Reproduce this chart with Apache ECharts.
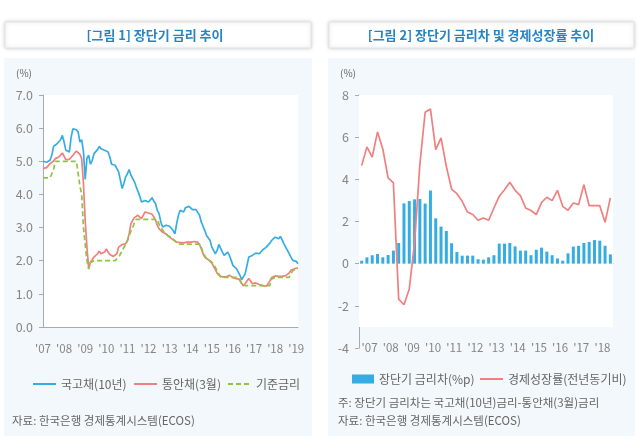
<!DOCTYPE html>
<html>
<head>
<meta charset="utf-8">
<script src="https://cdn.jsdelivr.net/npm/echarts@6/dist/echarts.min.js"></script>
<style>
html,body{margin:0;padding:0;background:#fff;}
#c{width:640px;height:446px;}
</style>
</head>
<body>
<div id="c"></div>
<script>
// ---------- Chart 1 data (monthly, Jan 2007 - Feb 2019) ----------
const leftYears = ['2007','2008','2009','2010','2011','2012','2013','2014','2015','2016','2017','2018','2019'];
const ktb10y = [
5.0,5.0,4.97,4.95,5.03,5.18,5.45,5.41,5.53,5.58,5.65,5.78,
5.58,5.33,5.31,5.28,5.73,5.98,6.0,5.95,5.88,5.58,5.65,5.3,
4.45,5.1,5.18,4.91,5.03,5.23,5.18,5.35,5.45,5.38,5.35,5.33,
5.28,5.28,5.13,4.91,4.93,4.88,4.85,4.68,4.43,4.18,4.33,4.53,
4.63,4.75,4.58,4.48,4.38,4.23,4.18,3.95,3.77,3.82,3.82,3.77,
3.77,3.82,3.90,3.80,3.72,3.52,3.42,3.17,3.02,2.96,3.07,3.12,
3.04,3.0,2.91,2.81,3.12,3.37,3.52,3.57,3.47,3.6,3.57,3.64,
3.6,3.54,3.52,3.54,3.5,3.37,3.17,3.04,2.91,2.76,2.71,2.61,
2.41,2.31,2.21,2.31,2.49,2.43,2.26,2.16,2.11,2.26,2.16,2.01,
1.86,1.81,1.76,1.71,1.56,1.43,1.46,1.61,1.86,2.11,2.16,2.16,
2.21,2.23,2.26,2.21,2.26,2.33,2.36,2.41,2.46,2.53,2.61,2.66,
2.71,2.76,2.66,2.73,2.63,2.51,2.41,2.31,2.26,2.11,2.01,1.99,
1.98,1.91];
const msb3m = [
4.78,4.8,4.81,4.85,4.93,4.98,5.01,5.08,5.13,5.13,5.16,5.25,
5.23,5.05,5.03,5.06,5.08,5.18,5.21,5.31,5.33,5.21,5.08,4.33,
3.2,2.4,1.76,1.96,2.03,2.11,2.13,2.21,2.29,2.21,2.16,2.26,
2.36,2.26,2.19,2.16,2.13,2.11,2.21,2.41,2.46,2.49,2.46,2.51,
2.61,2.81,3.12,3.22,3.3,3.34,3.37,3.32,3.27,3.37,3.47,3.44,
3.44,3.42,3.4,3.32,3.22,3.07,2.96,2.91,2.86,2.83,2.81,2.76,
2.71,2.66,2.63,2.59,2.56,2.56,2.55,2.56,2.54,2.58,2.56,2.55,
2.56,2.56,2.58,2.59,2.56,2.49,2.36,2.21,2.11,2.06,2.03,1.99,
1.93,1.83,1.73,1.63,1.56,1.51,1.51,1.53,1.51,1.53,1.56,1.51,
1.49,1.49,1.46,1.46,1.43,1.31,1.24,1.31,1.39,1.46,1.39,1.31,
1.26,1.33,1.31,1.28,1.26,1.25,1.24,1.23,1.29,1.39,1.49,1.53,
1.54,1.53,1.53,1.54,1.53,1.53,1.55,1.56,1.63,1.71,1.76,1.76,
1.78,1.78];
const baseRate = [
4.5,4.5,4.5,4.5,4.5,4.5,4.75,5.0,5.0,5.0,5.0,5.0,
5.0,5.0,5.0,5.0,5.0,5.0,5.0,5.0,5.0,4.25,4.0,3.0,
2.5,2.0,1.75,1.95,2.0,2.0,2.0,2.0,2.0,2.0,2.0,2.0,
2.0,2.0,2.0,2.0,2.0,2.0,2.05,2.1,2.2,2.3,2.4,2.5,
2.6,2.75,2.9,3.0,3.15,3.25,3.25,3.25,3.25,3.25,3.25,3.25,
3.25,3.25,3.25,3.25,3.25,3.25,3.1,3.0,2.95,2.85,2.8,2.75,
2.75,2.7,2.65,2.6,2.55,2.5,2.5,2.5,2.5,2.5,2.5,2.5,
2.5,2.5,2.5,2.5,2.5,2.5,2.4,2.25,2.2,2.05,2.0,2.0,
2.0,1.9,1.8,1.7,1.6,1.5,1.5,1.5,1.5,1.5,1.5,1.5,
1.5,1.5,1.5,1.5,1.5,1.3,1.25,1.25,1.25,1.25,1.25,1.25,
1.25,1.25,1.25,1.25,1.25,1.25,1.25,1.25,1.25,1.25,1.45,1.5,
1.5,1.5,1.5,1.5,1.5,1.5,1.5,1.5,1.5,1.5,1.7,1.75,
1.75,1.75];
const leftNames = ['국고채(10년)','통안채(3월)','기준금리'];

// ---------- Chart 2 data (quarterly, 2007Q1 - 2018Q4) ----------
const rightYears = ["'07","'08","'09","'10","'11","'12","'13","'14","'15","'16","'17","'18"];
const spread = [
0.14,0.3,0.4,0.46,0.3,0.41,0.62,0.98,
2.86,2.97,3.05,3.07,2.85,3.47,2.15,1.76,
1.55,0.97,0.55,0.38,0.38,0.38,0.21,0.19,
0.3,0.4,0.95,0.95,0.98,0.82,0.62,0.62,
0.4,0.66,0.76,0.57,0.4,0.25,0.14,0.49,
0.81,0.85,0.98,1.03,1.12,1.09,0.85,0.44];
const growth = [
4.65,5.54,5.05,6.25,5.44,4.07,3.83,-1.68,
-1.95,-1.2,1.0,4.7,7.18,7.34,5.41,5.97,
4.62,3.54,3.32,2.96,2.45,2.33,2.06,2.17,
2.06,2.64,3.2,3.51,3.86,3.48,3.23,2.64,
2.52,2.33,2.91,3.15,2.99,3.48,2.72,2.53,
2.88,2.8,3.75,2.75,2.75,2.75,1.96,3.12];
const rightNames = ['장단기 금리차(%p)','경제성장률(전년동기비)'];

// ---------- build categories ----------
const months = [];
leftYears.forEach(y => { for (let m = 1; m <= 12; m++) months.push(y + '.' + (m < 10 ? '0' + m : m)); });
const leftCats = months.slice(0, ktb10y.length);
const quarters = [];
rightYears.forEach(y => { for (let q = 1; q <= 4; q++) quarters.push(y + 'Q' + q); });

const FONT = '"Noto Sans CJK KR", "Noto Sans", sans-serif';
const AX = '#aaaaaa';
const LBL = '#858585';
const BLUE = '#35ade2';
const RED = '#f07f7f';
const GREEN = '#8dc63f';
const TITLE = '#2784c3';
const PANEL = '#f2f8fb';

const legText = {fontSize: 12, color: '#666', fontFamily: FONT};
function lineLegend(name, left, top) {
  return {data: [name], left: left, top: top, itemWidth: 23, itemHeight: 1, itemGap: 0,
          itemStyle: {opacity: 0}, textStyle: legText};
}

const chart = echarts.init(document.getElementById('c'), null, {renderer: 'canvas'});
const option = {
  animation: false,
  textStyle: {fontFamily: FONT},
  graphic: [
    {type: 'rect', z: -10, shape: {x: 4, y: 58, width: 308, height: 378}, style: {fill: PANEL}},
    {type: 'rect', z: -10, shape: {x: 328, y: 58, width: 307, height: 378}, style: {fill: PANEL}},
    {type: 'rect', z: -9, shape: {x: 5, y: 22, width: 306, height: 26}, style: {fill: '#fff', stroke: '#e2e2e2', lineWidth: 1, shadowBlur: 4, shadowColor: 'rgba(0,0,0,0.18)'}},
    {type: 'rect', z: -9, shape: {x: 329, y: 22, width: 305, height: 26}, style: {fill: '#fff', stroke: '#e2e2e2', lineWidth: 1, shadowBlur: 4, shadowColor: 'rgba(0,0,0,0.18)'}},
    {type: 'text', z: 5, style: {text: '[그림 1] 장단기 금리 추이', x: 155, y: 35, align: 'center', verticalAlign: 'middle', fill: TITLE, font: 'bold 13px ' + FONT}},
    {type: 'text', z: 5, style: {text: '[그림 2] 장단기 금리차 및 경제성장률 추이', x: 481, y: 35, align: 'center', verticalAlign: 'middle', fill: TITLE, font: 'bold 13px ' + FONT}},
    {type: 'text', z: 5, style: {text: '(%)', x: 16, y: 73, verticalAlign: 'middle', fill: '#666', font: '10px ' + FONT}},
    {type: 'text', z: 5, style: {text: '(%)', x: 340, y: 73, verticalAlign: 'middle', fill: '#666', font: '10px ' + FONT}},
    {type: 'text', z: 5, style: {text: '자료: 한국은행 경제통계시스템(ECOS)', x: 12, y: 421, verticalAlign: 'middle', fill: '#666', font: '11.5px ' + FONT}},
    {type: 'text', z: 5, style: {text: '주: 장단기 금리차는 국고채(10년)금리-통안채(3월)금리', x: 338, y: 403, verticalAlign: 'middle', fill: '#666', font: '11.5px ' + FONT}},
    {type: 'text', z: 5, style: {text: '자료: 한국은행 경제통계시스템(ECOS)', x: 338, y: 421, verticalAlign: 'middle', fill: '#666', font: '11.5px ' + FONT}}
  ],
  legend: [
    lineLegend(leftNames[0], 27, 373),
    lineLegend(leftNames[1], 128, 373),
    lineLegend(leftNames[2], 222, 373),
    {data: [{name: rightNames[0], icon: 'rect', itemStyle: {color: BLUE}}], left: 347, top: 368,
     itemWidth: 22, itemHeight: 9, itemGap: 0, textStyle: legText},
    lineLegend(rightNames[1], 474, 368)
  ],
  grid: [
    {left: 43, top: 95, width: 255, height: 232, show: true, backgroundColor: '#fff', borderWidth: 0},
    {left: 359, top: 95, width: 254, height: 253, show: false}
  ],
  xAxis: [
    {
      gridIndex: 0, type: 'category', data: leftCats, boundaryGap: false,
      axisLine: {lineStyle: {color: AX}}, axisTick: {show: false},
      axisLabel: {
        interval: (i) => i % 12 === 0, margin: 16, color: LBL, fontSize: 11.5,
        formatter: (v) => "'" + v.slice(2, 4)
      }
    },
    {
      gridIndex: 1, type: 'category', data: quarters, boundaryGap: true,
      axisLine: {onZero: true, lineStyle: {color: AX}}, axisTick: {show: false},
      axisLabel: {show: false}
    },
    {
      gridIndex: 1, type: 'category', data: rightYears, boundaryGap: true, position: 'bottom',
      axisLine: {show: false}, axisTick: {show: false},
      axisLabel: {margin: 0, verticalAlign: 'middle', color: LBL, fontSize: 11.5}
    }
  ],
  yAxis: [
    {
      gridIndex: 0, type: 'value', min: 0, max: 7, interval: 1,
      axisLine: {show: true, lineStyle: {color: AX}},
      axisTick: {show: true, length: 4, lineStyle: {color: AX}},
      splitLine: {show: false},
      axisLabel: {margin: 10, color: LBL, fontSize: 12.5, formatter: (v) => v.toFixed(1)}
    },
    {
      gridIndex: 1, type: 'value', min: -4, max: 8, interval: 2,
      axisLine: {show: true, lineStyle: {color: AX}},
      axisTick: {show: true, length: 4, lineStyle: {color: AX}},
      splitLine: {show: false},
      axisLabel: {margin: 10, color: LBL, fontSize: 12.5}
    }
  ],
  series: [
    {name: leftNames[0], type: 'line', xAxisIndex: 0, yAxisIndex: 0, data: ktb10y, symbol: 'none',
     lineStyle: {color: BLUE, width: 1.7}, itemStyle: {color: BLUE}, z: 3},
    {name: leftNames[1], type: 'line', xAxisIndex: 0, yAxisIndex: 0, data: msb3m, symbol: 'none',
     lineStyle: {color: RED, width: 1.7}, itemStyle: {color: RED}, z: 4},
    {name: leftNames[2], type: 'line', xAxisIndex: 0, yAxisIndex: 0, data: baseRate, symbol: 'none',
     lineStyle: {color: GREEN, width: 1.7, type: [5, 3]}, itemStyle: {color: GREEN}, z: 5},
    {name: rightNames[0], type: 'bar', xAxisIndex: 1, yAxisIndex: 1, data: spread, barWidth: 3,
     itemStyle: {color: BLUE},
     markArea: {silent: true, itemStyle: {color: '#ffffff'}, data: [[{yAxis: -3}, {yAxis: 8}]]}, z: 2},
    {name: rightNames[1], type: 'line', xAxisIndex: 1, yAxisIndex: 1, data: growth, symbol: 'none',
     lineStyle: {color: RED, width: 1.7}, itemStyle: {color: RED}, z: 4}
  ]
};
chart.setOption(option);
</script>
</body>
</html>
